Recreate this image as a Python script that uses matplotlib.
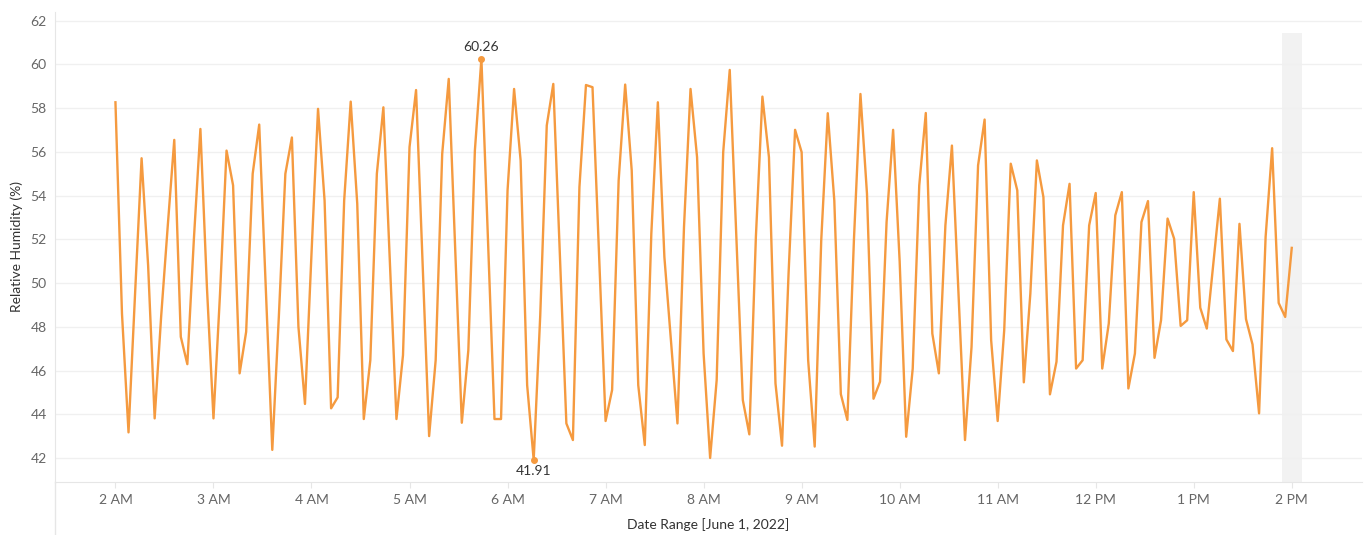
import pandas as pd
import matplotlib
matplotlib.use("Agg")
from matplotlib import pyplot as plt

# relative humidity readings, every 4 minutes from 2 AM to 2 PM
humidity = [
    58.27, 48.6, 43.17, 49.5, 55.71, 50.8, 43.81, 48.5, 52.6, 56.55,
    47.54, 46.29, 52.0, 57.05, 49.8, 43.81, 49.5, 56.06, 54.47, 45.87,
    47.77, 55.0, 57.25, 49.8, 42.37, 48.45, 55.0, 56.66, 48.0, 44.47,
    51.35, 57.97, 53.78, 44.27, 44.77, 53.78, 58.3, 53.63, 43.78, 46.47,
    55.0, 58.04, 50.92, 43.78, 46.7, 56.22, 58.83, 50.92, 43.0, 46.47,
    55.91, 59.34, 51.48, 43.61, 46.93, 56.06, 60.26, 52.0, 43.78, 43.78,
    54.24, 58.88, 55.61, 45.33, 41.91, 48.5, 57.21, 59.11, 51.35, 43.58,
    42.82, 54.39, 59.06, 58.96, 51.3, 43.69, 45.11, 54.69, 59.08, 55.15,
    45.33, 42.59, 52.26, 58.27, 51.19, 47.39, 43.58, 52.56, 58.88, 55.76,
    46.78, 42.0, 45.56, 55.99, 59.75, 52.2, 44.65, 43.08, 52.11, 58.53,
    55.76, 45.41, 42.56, 50.43, 57.01, 55.99, 46.47, 42.52, 51.95, 57.77,
    53.78, 44.92, 43.74, 51.95, 58.65, 54.09, 44.71, 45.49, 52.79, 57.01,
    51.0, 42.97, 46.09, 54.47, 57.78, 47.69, 45.87, 52.64, 56.29, 49.57,
    42.82, 47.08, 55.38, 57.48, 47.39, 43.69, 47.84, 55.46, 54.24, 45.46,
    49.52, 55.61, 53.93, 44.91, 46.4, 52.64, 54.54, 46.09, 46.47, 52.64,
    54.12, 46.09, 48.15, 53.1, 54.16, 45.18, 46.78, 52.79, 53.75, 46.58,
    48.3, 52.95, 52.03, 48.04, 48.3, 54.16, 48.87, 47.92, 50.89, 53.86,
    47.42, 46.89, 52.71, 48.35, 47.19, 44.04, 52.11, 56.17, 49.09, 48.45,
    51.61,
]
times = pd.date_range("2022-06-01 02:00", periods=len(humidity), freq="4min")
tick_labels = ["2 AM", "3 AM", "4 AM", "5 AM", "6 AM", "7 AM", "8 AM", "9 AM",
               "10 AM", "11 AM", "12 PM", "1 PM", "2 PM"]
tick_times = pd.date_range("2022-06-01 02:00", periods=len(tick_labels), freq="h")

plt.rcParams['font.family'] = ['Lato', 'DejaVu Sans']

fig = plt.figure(figsize=(13.64, 5.35), dpi=100)
ax = fig.add_axes([55 / 1364, 1 - 482 / 535, 1307 / 1364, 470 / 535])

line_color = '#f59a3f'
ax.plot(times, humidity, color=line_color, lw=1.7, zorder=3)

# max / min marks
imax = humidity.index(max(humidity))
imin = humidity.index(min(humidity))
ax.plot([times[imax], times[imin]], [humidity[imax], humidity[imin]], 'o',
        color=line_color, ms=4, zorder=4)
ax.annotate(f"{humidity[imax]:.2f}", (times[imax], humidity[imax]),
            xytext=(0, 4), textcoords='offset points', ha='center', va='bottom',
            fontsize=10, color='#333333')
ax.annotate(f"{humidity[imin]:.2f}", (times[imin], humidity[imin]),
            xytext=(0, -4), textcoords='offset points', ha='center', va='top',
            fontsize=10, color='#333333')

# shaded band at the end
ax.axvspan(pd.Timestamp("2022-06-01 13:54"), pd.Timestamp("2022-06-01 14:06"),
           ymin=0, ymax=(61.45 - 40.9) / (62.4 - 40.9), color='#f2f2f2', zorder=1, lw=0)

ax.set_ylim(40.9, 62.4)
ax.set_xlim(pd.Timestamp("2022-06-01 01:23"), pd.Timestamp("2022-06-01 14:43"))
ax.set_yticks(range(42, 63, 2))
ax.set_xticks(tick_times)
ax.set_xticklabels(tick_labels)

ax.grid(axis='y', color='#f0f0f0', lw=1, zorder=0)
for s in ['top', 'right']:
    ax.spines[s].set_visible(False)
ax.spines['left'].set_color('#e6e6e6')
ax.spines['bottom'].set_color('#e6e6e6')
ax.tick_params(axis='y', length=0, pad=6, labelsize=10, labelcolor='#666666')
ax.tick_params(axis='x', length=4, color='#e6e6e6', pad=5, labelsize=10, labelcolor='#666666')

ax.set_ylabel("Relative Humidity (%)", fontsize=10, color='#333333', labelpad=5)
ax.set_xlabel("Date Range [June 1, 2022]", fontsize=10, color='#333333', labelpad=8)

# pane divider continues below the axis
fig.add_artist(plt.Line2D([55 / 1364, 55 / 1364], [0, 1 - 482 / 535],
                          transform=fig.transFigure, color='#e6e6e6', lw=1))

fig.savefig("out.png", dpi=100, facecolor='white')
